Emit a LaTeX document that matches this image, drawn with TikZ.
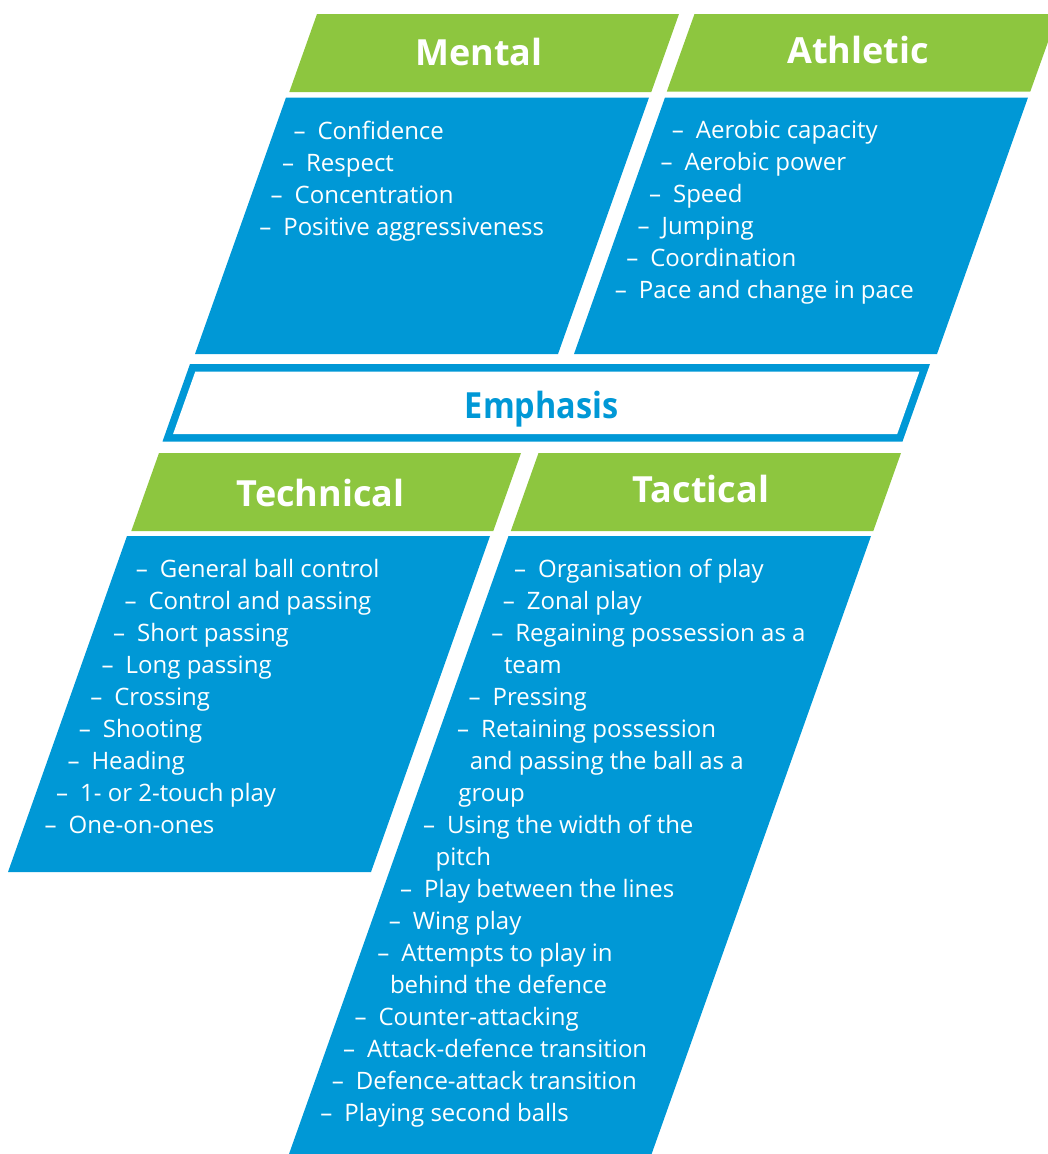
\documentclass[tikz,border=0pt]{standalone}
\usepackage{fontspec}
\setmainfont{Open Sans}
\definecolor{fblue}{RGB}{0,152,214}
\definecolor{fgreen}{RGB}{141,198,63}
\tikzset{
  item/.style={anchor=base west,inner sep=0pt,text=white,font=\fontsize{24}{28}\selectfont},
  head/.style={anchor=base,inner sep=0pt,text=white,font=\fontsize{36}{40}\selectfont\bfseries},
}
% #1 name, #2 x0, #3 y0, #4 line index, #5 text
\newcommand\bitem[5]{\node[item] (#1) at ({#2-11.4*#4},{#3+32*#4}) {\makebox[24pt][l]{–}#5};}
\newcommand\bcont[5]{\node[item] (#1) at ({#2+24-11.4*#4},{#3+32*#4}) {#5};}
\begin{document}
\begin{tikzpicture}[x=1pt,y=-1pt]
\useasboundingbox (0,0) rectangle (1048,1154);
% Mental
\fill[fgreen] (317,14) -- (679,14) -- (651.3,92) -- (289.3,92) -- cycle;
\fill[fblue] (286,97.5) -- (649,97.5) -- (558,354) -- (195,354) -- cycle;
% Athletic
\fill[fgreen] (694.5,14) -- (1058,14) -- (1030.3,91.5) -- (666.8,91.5) -- cycle;
\fill[fblue] (665,97.5) -- (1028,97.5) -- (937,354) -- (574,354) -- cycle;
% Emphasis
\fill[fblue] (190,364) -- (930,364) -- (902.5,441.5) -- (162.5,441.5) -- cycle;
\fill[white] (195.3,371.5) -- (919.4,371.5) -- (897.2,434) -- (173.1,434) -- cycle;
% Technical
\fill[fgreen] (159,453) -- (521,453) -- (493.3,531) -- (131.3,531) -- cycle;
\fill[fblue] (127,536) -- (490,536) -- (371,872) -- (8,872) -- cycle;
% Tactical
\fill[fgreen] (538.5,453) -- (901,453) -- (873.3,531) -- (510.8,531) -- cycle;
\fill[fblue] (508.5,536) -- (871,536) -- (651.6,1154) -- (289,1154) -- cycle;

% headers
\node[head] (hmental) at (479,65) {Mental};
\node[head] (hathletic) at (858,63.3) {Athletic};
\node[head,text=fblue] (hemph) at (541.7,418.3) {\scalebox{0.9}[1]{Emphasis}};
\node[head] (htech) at (320.5,506) {Technical};
\node[head] (htact) at (701,502.7) {Tactical};

% Mental items
\bitem{m0}{293.3}{139.5}{0}{Confidence}
\bitem{m1}{293.3}{139.5}{1}{Respect}
\bitem{m2}{293.3}{139.5}{2}{Concentration}
\bitem{m3}{293.3}{139.5}{3}{Positive aggressiveness}

% Athletic items
\bitem{a0}{671.7}{138.5}{0}{Aerobic capacity}
\bitem{a1}{671.7}{138.5}{1}{Aerobic power}
\bitem{a2}{671.7}{138.5}{2}{Speed}
\bitem{a3}{671.7}{138.5}{3}{Jumping}
\bitem{a4}{671.7}{138.5}{4}{Coordination}
\bitem{a5}{671.7}{138.5}{5}{Pace and change in pace}

% Technical items
\bitem{t0}{135.7}{577.7}{0}{General ball control}
\bitem{t1}{135.7}{577.7}{1}{Control and passing}
\bitem{t2}{135.7}{577.7}{2}{Short passing}
\bitem{t3}{135.7}{577.7}{3}{Long passing}
\bitem{t4}{135.7}{577.7}{4}{Crossing}
\bitem{t5}{135.7}{577.7}{5}{Shooting}
\bitem{t6}{135.7}{577.7}{6}{Heading}
\bitem{t7}{135.7}{577.7}{7}{1- or 2-touch play}
\bitem{t8}{135.7}{577.7}{8}{One-on-ones}

% Tactical items
\bitem{c0}{514}{577.7}{0}{Organisation of play}
\bitem{c1}{514}{577.7}{1}{Zonal play}
\bitem{c2}{514}{577.7}{2}{Regaining possession as a}
\bcont{c3}{514}{577.7}{3}{team}
\bitem{c4}{514}{577.7}{4}{Pressing}
\bitem{c5}{514}{577.7}{5}{Retaining possession}
\bcont{c6}{514}{577.7}{6}{and passing the ball as a}
\bcont{c7}{514}{577.7}{7}{group}
\bitem{c8}{514}{577.7}{8}{Using the width of the}
\bcont{c9}{514}{577.7}{9}{pitch}
\bitem{c10}{514}{577.7}{10}{Play between the lines}
\bitem{c11}{514}{577.7}{11}{Wing play}
\bitem{c12}{514}{577.7}{12}{Attempts to play in}
\bcont{c13}{514}{577.7}{13}{behind the defence}
\bitem{c14}{514}{577.7}{14}{Counter-attacking}
\bitem{c15}{514}{577.7}{15}{Attack-defence transition}
\bitem{c16}{514}{577.7}{16}{Defence-attack transition}
\bitem{c17}{514}{577.7}{17}{Playing second balls}
\end{tikzpicture}
\end{document}
